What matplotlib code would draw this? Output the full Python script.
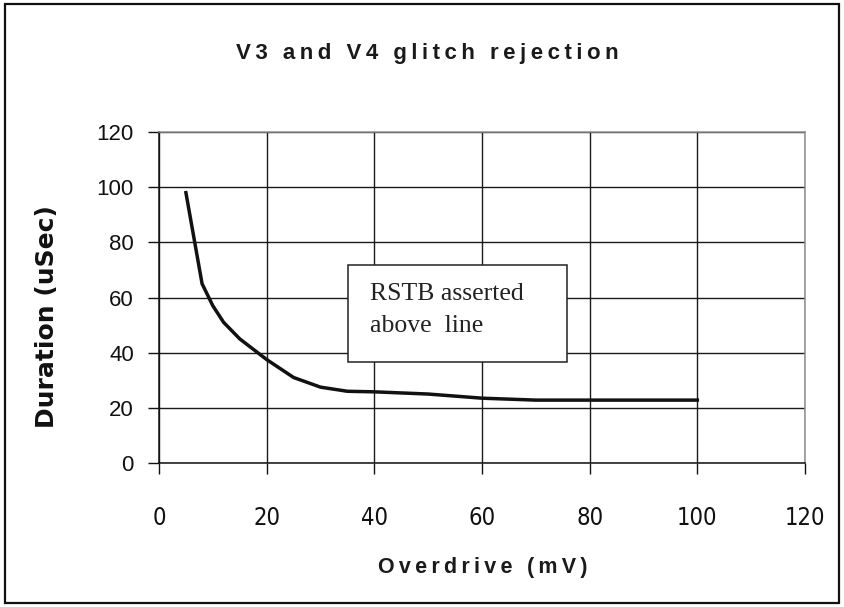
import matplotlib
matplotlib.use("Agg")
import matplotlib.pyplot as plt
from matplotlib.patches import Rectangle

# ---- data ----
overdrive_mv = [5, 8, 10, 12, 15, 20, 25, 30, 35, 40, 50, 60, 70, 100]
duration_us = [98, 65, 57, 51, 45, 37.5, 31, 27.5, 26, 25.8, 25, 23.5, 22.8, 22.8]
x_ticks = [0, 20, 40, 60, 80, 100, 120]
y_ticks = [0, 20, 40, 60, 80, 100, 120]
title_text = "V3 and V4 glitch rejection"
xlabel_text = "Overdrive (mV)"
ylabel_text = "Duration (uSec)"
note_lines = ["RSTB asserted", "above  line"]

W, H = 844, 607
fig = plt.figure(figsize=(W / 100, H / 100), dpi=100)
fig.patch.set_facecolor("white")

# axes placement (pixels -> fraction)
L, R, T, B = 159, 805, 132, 463
ax = fig.add_axes([L / W, 1 - B / H, (R - L) / W, (B - T) / H])

ax.plot(overdrive_mv, duration_us, color="#111111", lw=2.5, solid_joinstyle="miter", zorder=4)

ax.set_xlim(0, 120)
ax.set_ylim(0, 120)
ax.set_xticks(x_ticks)
ax.set_yticks(y_ticks)
ax.grid(True, color="#1a1a1a", lw=1.0, zorder=1)
ax.set_axisbelow(True)

for s in ["left", "bottom"]:
    ax.spines[s].set_color("#111111")
    ax.spines[s].set_linewidth(1.1)
for s in ["top", "right"]:
    ax.spines[s].set_color("#8f8f8f")
    ax.spines[s].set_linewidth(1.1)

ax.tick_params(axis="both", direction="out", length=8, width=1.0, color="#111111")
ax.tick_params(axis="y", pad=10, labelsize=16, labelcolor="#111111")
ax.tick_params(axis="x", pad=23, labelsize=17, labelcolor="#111111")
for lab in ax.get_yticklabels():
    lab.set_family(["Liberation Sans", "DejaVu Sans"])
for lab in ax.get_xticklabels():
    lab.set_family(["Liberation Sans Narrow", "DejaVu Sans"])
    lab.set_stretch("condensed")

# annotation box
bx0, bx1 = (348 - L) / (R - L), (567 - L) / (R - L)
by0, by1 = (B - 362) / (B - T), (B - 265) / (B - T)
ax.add_patch(Rectangle((bx0, by0), bx1 - bx0, by1 - by0, transform=ax.transAxes,
                       facecolor="white", edgecolor="#222222", lw=1.1, zorder=5))
tx = (370 - L) / (R - L)
for line, base in zip(note_lines, [300, 332]):
    ax.text(tx, (B - base) / (B - T), line, transform=ax.transAxes,
            ha="left", va="baseline", fontsize=18.5,
            family=["Liberation Serif", "DejaVu Serif"], color="#222222", zorder=6)

def spaced(s):
    return "\u2009".join(s)

fig.text(427 / W, 1 - 59 / H, spaced(title_text), ha="center", va="baseline",
         fontsize=16, fontweight="bold", family=["Liberation Sans", "DejaVu Sans"],
         color="#1a1a1a")
fig.text(483 / W, 1 - 573 / H, spaced(xlabel_text), ha="center", va="baseline",
         fontsize=15.5, fontweight="bold", family=["Liberation Sans", "DejaVu Sans"],
         color="#1a1a1a")
fig.text(47.5 / W, 1 - 317 / H, ylabel_text, ha="center", va="center", rotation=90,
         fontsize=18, fontweight="bold", family=["DejaVu Sans"], color="#111111")

# figure frame
fig.add_artist(Rectangle((5 / W, 4 / H), (W - 10) / W, (H - 8) / H,
                         transform=fig.transFigure, fill=False,
                         edgecolor="#111111", lw=1.6))

fig.savefig("out.png", dpi=100)
